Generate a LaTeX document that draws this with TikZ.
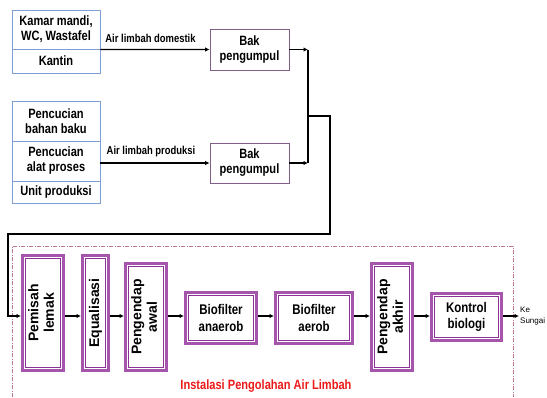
\documentclass[tikz,border=0pt]{standalone}
\usepackage{fontspec}
\setmainfont{Liberation Sans}
\newfontfamily\narrowf[FakeStretch=0.82]{Liberation Sans}
\usetikzlibrary{arrows.meta}
\definecolor{blu}{RGB}{127,158,212}
\definecolor{bakc}{RGB}{128,96,136}
\definecolor{pur}{RGB}{165,85,172}
\definecolor{purd}{RGB}{140,50,150}
\definecolor{dsh}{RGB}{190,120,140}
\definecolor{redt}{RGB}{235,25,25}
\begin{document}
\begin{tikzpicture}[x=1pt,y=-1pt,
  src/.style={draw=blu, line width=0.8pt, fill=white, align=center, inner sep=0pt,
    font=\narrowf\bfseries\fontsize{13.5}{15}\selectfont},
  bak/.style={draw=bakc, line width=0.8pt, fill=white, align=center, inner sep=0pt,
    font=\narrowf\bfseries\fontsize{13.5}{15}\selectfont},
  lbl/.style={inner sep=0pt, font=\narrowf\bfseries\fontsize{11.5}{13}\selectfont},
  unit/.style={draw=pur, line width=3pt, fill=white, outer sep=1.5pt, inner sep=0pt,
    align=center, font=\narrowf\bfseries\fontsize{14}{16.5}\selectfont},
  vunit/.style={unit, font=\bfseries\fontsize{14}{15.5}\selectfont},
  flow/.style={line width=1.3pt, -{Latex[length=4.5pt,width=4.5pt]}},
  innerframe/.style={draw=purd, line width=0.8pt}]
\useasboundingbox (0,0) rectangle (547,397);

% sources
\node[src, minimum width=88pt, minimum height=39pt] (k1) at (56,29.5) {Kamar mandi,\\WC, Wastafel};
\node[src, minimum width=88pt, minimum height=24pt] (k2) at (56,61) {Kantin};
\node[src, minimum width=88pt, minimum height=40pt] (p1) at (56,121) {Pencucian\\bahan baku};
\node[src, minimum width=88pt, minimum height=40pt] (p2) at (56,161) {Pencucian\\alat proses};
\node[src, minimum width=88pt, minimum height=22pt] (p3) at (56,192) {Unit produksi};

% collecting tanks
\node[bak, minimum width=79pt, minimum height=41pt] (bak1) at (249.5,49.5) {Bak\\pengumpul};
\node[bak, minimum width=79pt, minimum height=40pt] (bak2) at (249.5,163) {Bak\\pengumpul};

\node[lbl] (l1) at (150.5,38) {Air limbah domestik};
\node[lbl] (l2) at (151,152) {Air limbah produksi};

\draw[flow] (k1.south east) -- (bak1.west);
\draw[flow] (bak2.west -| p2.east) -- (bak2.west);

% frame
\draw[dsh, line width=0.8pt, dash pattern=on 4pt off 1.5pt on 1pt off 1.5pt]
  (12,397) -- (12,246) -- (513,246) -- (513,397);

% treatment units
\node[vunit, minimum width=41pt, minimum height=115pt] (pem) at (43,313)
  {\rotatebox{90}{\begin{tabular}{@{}c@{}}Pemisah\\lemak\end{tabular}}};
\node[vunit, minimum width=26pt, minimum height=115pt] (equ) at (95.5,313)
  {\rotatebox{90}{Equalisasi}};
\node[vunit, minimum width=41pt, minimum height=107pt] (pga) at (146,317)
  {\rotatebox{90}{\begin{tabular}{@{}c@{}}Pengendap\\awal\end{tabular}}};
\node[unit, minimum width=71pt, minimum height=51pt] (bfa) at (221,318) {Biofilter\\anaerob};
\node[unit, minimum width=77pt, minimum height=51pt] (bfb) at (314,318) {Biofilter\\aerob};
\node[vunit, minimum width=41pt, minimum height=107pt] (pgk) at (392,317)
  {\rotatebox{90}{\begin{tabular}{@{}c@{}}Pengendap\\akhir\end{tabular}}};
\node[unit, minimum width=70pt, minimum height=47pt] (kon) at (466.5,317) {Kontrol\\biologi};

\foreach \n in {pem,equ,pga,bfa,bfb,pgk,kon}
  \draw[innerframe] ([shift={(4.2pt,4.2pt)}]\n.south west) rectangle ([shift={(-4.2pt,-4.2pt)}]\n.north east);

\node[anchor=west, align=left, inner sep=1pt, font=\fontsize{8}{11}\selectfont] (ke) at (519,316) {Ke\\Sungai};
\node[text=redt, inner sep=0pt, font=\narrowf\bfseries\fontsize{13.5}{15}\selectfont] (ttl) at (266,386)
  {Instalasi Pengolahan Air Limbah};

% connectors
\coordinate (m) at (308,116);
\coordinate (c1) at (330,234);
\coordinate (c2) at (8,234);
\coordinate (row) at (0,316);

\draw[flow] (bak1.east) -- (bak1.east -| m);
\draw[flow] (bak2.east) -- (bak2.east -| m);
\draw[line width=1.5pt] (bak1.east -| m) -- (bak2.east -| m);
\draw[flow] (m) -| (c1) -- (c2) |- (pem.west |- row);

\draw[flow] (pem.east |- row) -- (equ.west |- row);
\draw[flow] (equ.east |- row) -- (pga.west |- row);
\draw[flow] (pga.east |- row) -- (bfa.west |- row);
\draw[flow] (bfa.east |- row) -- (bfb.west |- row);
\draw[flow] (bfb.east |- row) -- (pgk.west |- row);
\draw[flow] (pgk.east |- row) -- (kon.west |- row);
\draw[flow] (kon.east |- row) -- (ke.west);
\end{tikzpicture}
\end{document}
